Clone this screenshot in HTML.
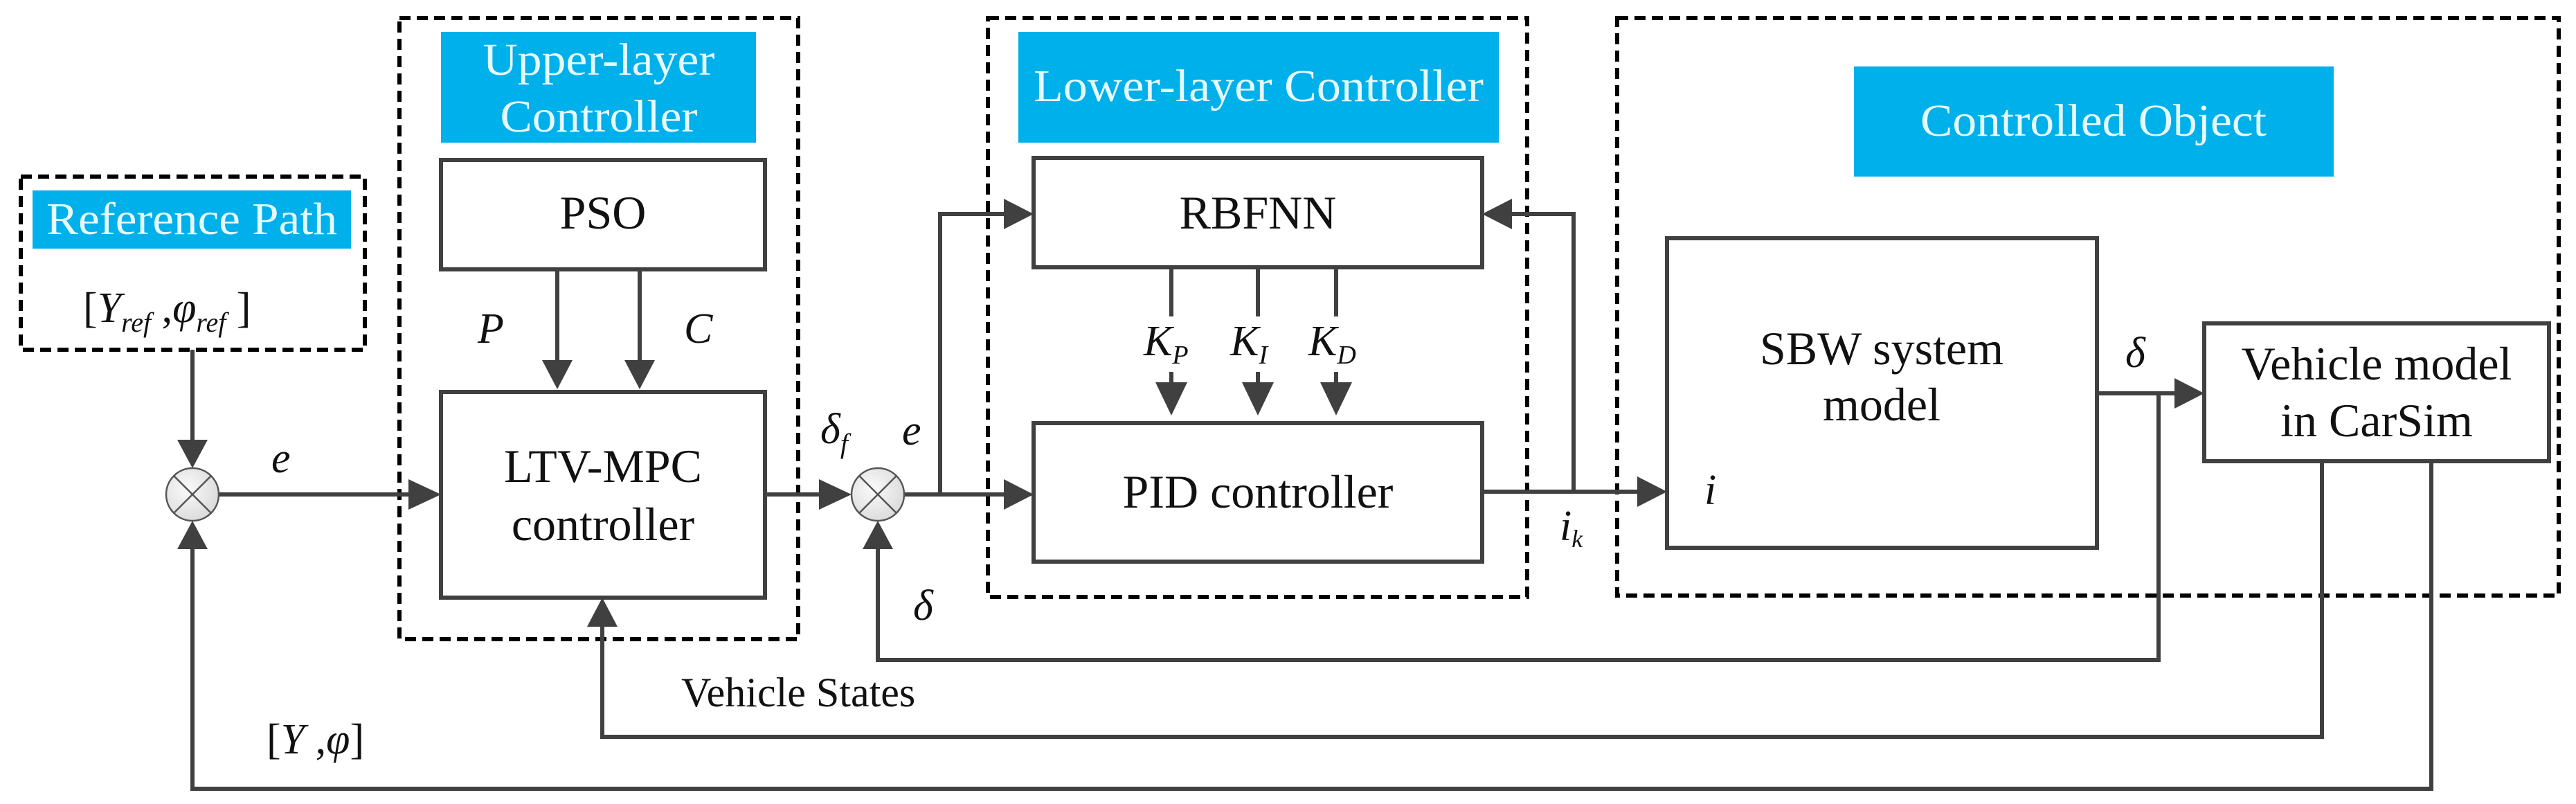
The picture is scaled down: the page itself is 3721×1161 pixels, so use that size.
<!DOCTYPE html>
<html><head><meta charset="utf-8"><style>
html,body{margin:0;padding:0;background:#fff;}
svg{display:block;}
text{font-family:"Liberation Serif","DejaVu Serif",serif;}
.t{font-family:"Liberation Serif","DejaVu Serif",serif;font-size:68px;fill:#111;text-anchor:middle;}
.c{font-family:"Liberation Serif","DejaVu Serif",serif;font-size:66px;fill:#e6fbff;text-anchor:middle;}
.i{font-family:"Liberation Serif","DejaVu Serif",serif;font-style:italic;font-size:62px;fill:#111;}
</style></head><body>
<svg width="3721" height="1161" viewBox="0 0 3721 1161" xmlns="http://www.w3.org/2000/svg" font-family="Liberation Serif, DejaVu Serif, serif">
<defs>
<radialGradient id="g" cx="0.4" cy="0.4" r="0.7"><stop offset="0" stop-color="#fafafa"/><stop offset="1" stop-color="#d8d8d8"/></radialGradient>
</defs>
<g fill="none" stroke="#000" stroke-width="6" stroke-dasharray="16 9">
<rect x="30" y="255" width="497" height="250"/>
<rect x="577" y="26" width="576" height="897"/>
<rect x="1427" y="26" width="779" height="836"/>
<rect x="2336" y="26" width="1360" height="834"/>
</g>
<g fill="#00b0ea">
<rect x="47" y="275" width="460" height="84"/>
<rect x="637" y="46" width="455" height="160"/>
<rect x="1471" y="46" width="694" height="160"/>
<rect x="2678" y="96" width="693" height="159"/>
</g>
<text class="c" x="277" y="338" textLength="420" lengthAdjust="spacingAndGlyphs">Reference Path</text>
<text class="c" x="865" y="108" textLength="335" lengthAdjust="spacingAndGlyphs">Upper-layer</text>
<text class="c" x="865" y="190" textLength="285" lengthAdjust="spacingAndGlyphs">Controller</text>
<text class="c" x="1818" y="146" textLength="650" lengthAdjust="spacingAndGlyphs">Lower-layer Controller</text>
<text class="c" x="3024" y="196" textLength="500" lengthAdjust="spacingAndGlyphs">Controlled Object</text>
<g fill="#fff" stroke="#404040" stroke-width="6">
<rect x="637" y="231" width="468" height="158"/>
<rect x="637" y="566" width="468" height="297"/>
<rect x="1493" y="228" width="648" height="158"/>
<rect x="1493" y="611" width="648" height="200"/>
<rect x="2408" y="344" width="621" height="447"/>
<rect x="3184" y="467" width="498" height="199"/>
</g>
<text class="t" x="871" y="330">PSO</text>
<text class="t" x="871" y="696">LTV-MPC</text>
<text class="t" x="871" y="780">controller</text>
<text class="t" x="1817" y="330">RBFNN</text>
<text class="t" x="1817" y="733">PID controller</text>
<text class="t" x="2718" y="526">SBW system</text>
<text class="t" x="2718" y="607">model</text>
<text class="t" x="3433" y="548">Vehicle model</text>
<text class="t" x="3433" y="630">in CarSim</text>
<g fill="none" stroke="#404040" stroke-width="6">
<line x1="278" y1="505" x2="278" y2="660"/>
<line x1="316" y1="714" x2="600" y2="714"/>
<line x1="805" y1="389" x2="805" y2="530"/>
<line x1="924" y1="389" x2="924" y2="530"/>
<line x1="1105" y1="714" x2="1190" y2="714"/>
<line x1="1306" y1="714" x2="1460" y2="714"/>
<polyline points="1358,714 1358,309 1460,309"/>
<line x1="1692" y1="386" x2="1692" y2="457"/>
<line x1="1817" y1="386" x2="1817" y2="457"/>
<line x1="1930" y1="386" x2="1930" y2="457"/>
<line x1="1692" y1="537" x2="1692" y2="560"/>
<line x1="1817" y1="537" x2="1817" y2="560"/>
<line x1="1930" y1="537" x2="1930" y2="560"/>
<line x1="2141" y1="710" x2="2370" y2="710"/>
<polyline points="2273,710 2273,309 2175,309"/>
<line x1="3029" y1="568" x2="3150" y2="568"/>
<polyline points="3118,568 3118,953 1268,953 1268,780"/>
<polyline points="3354,666 3354,1064 870,1064 870,900"/>
<polyline points="3512,666 3512,1139 278,1139 278,790"/>
</g>
<g fill="#404040">
<polygon points="256,635 300,635 278,676"/>
<polygon points="256,793 300,793 278,752"/>
<polygon points="590,692 590,736 637,714"/>
<polygon points="783,520 827,520 805,562"/>
<polygon points="902,520 946,520 924,562"/>
<polygon points="848,905 892,905 870,863"/>
<polygon points="1183,692 1183,736 1230,714"/>
<polygon points="1246,793 1290,793 1268,752"/>
<polygon points="1450,692 1450,736 1493,714"/>
<polygon points="1450,287 1450,331 1493,309"/>
<polygon points="2184,287 2184,331 2141,309"/>
<polygon points="1669,552 1715,552 1692,600"/>
<polygon points="1794,552 1840,552 1817,600"/>
<polygon points="1907,552 1953,552 1930,600"/>
<polygon points="2365,688 2365,732 2408,710"/>
<polygon points="3141,546 3141,590 3184,568"/>
</g>
<g stroke="#555" stroke-width="2.5" fill="url(#g)">
<circle cx="278" cy="714" r="38"/>
<circle cx="1268" cy="714" r="38"/>
</g>
<g stroke="#555" stroke-width="2.5">
<line x1="251" y1="687" x2="305" y2="741"/><line x1="305" y1="687" x2="251" y2="741"/>
<line x1="1241" y1="687" x2="1295" y2="741"/><line x1="1295" y1="687" x2="1241" y2="741"/>
</g>
<text x="120" y="465" font-size="62" fill="#111">[<tspan font-style="italic">Y</tspan><tspan font-style="italic" font-size="40" dy="14">ref</tspan><tspan dy="-14"> ,</tspan><tspan font-style="italic">φ</tspan><tspan font-style="italic" font-size="40" dy="14">ref</tspan><tspan dy="-14"> ]</tspan></text>
<text class="i" x="392" y="682">e</text>
<text class="i" x="690" y="495">P</text>
<text class="i" x="988" y="495">C</text>
<text class="i" x="1185" y="640">δ<tspan font-size="40" dy="14">f</tspan></text>
<text class="i" x="1303" y="642">e</text>
<text class="i" x="1319" y="895">δ</text>
<text class="i" x="1652" y="513">K<tspan font-size="38" dy="12">P</tspan></text>
<text class="i" x="1777" y="513">K<tspan font-size="38" dy="12">I</tspan></text>
<text class="i" x="1890" y="513">K<tspan font-size="38" dy="12">D</tspan></text>
<text class="i" x="2253" y="780" font-size="52">i<tspan font-size="36" dy="10">k</tspan></text>
<text class="i" x="2462" y="728" font-size="52">i</text>
<text class="i" x="3070" y="530">δ</text>
<text x="984" y="1020" font-size="60" fill="#111">Vehicle States</text>
<text x="385" y="1088" font-size="62" fill="#111">[<tspan font-style="italic">Y</tspan> ,<tspan font-style="italic">φ</tspan>]</text>
</svg>
</body></html>
